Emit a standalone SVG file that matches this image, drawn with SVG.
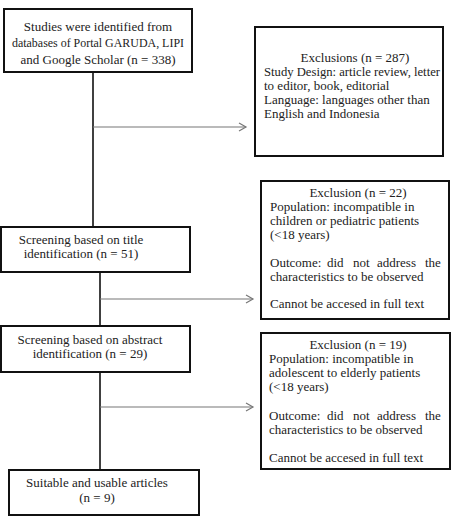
<svg xmlns="http://www.w3.org/2000/svg" width="465" height="518" viewBox="0 0 465 518">
<style>
.box{fill:#fff;stroke:#111;stroke-width:2}
.t{font-family:"Liberation Serif",serif;font-size:13px;fill:#222}
.c{text-anchor:middle}
.v{stroke:#000;stroke-width:1.5;fill:none}
.h{stroke:#777;stroke-width:1.2;fill:none}
</style>
<defs>
<marker id="ah" markerWidth="10" markerHeight="10" refX="8" refY="5" orient="auto" markerUnits="userSpaceOnUse">
<path d="M1,1 L8,5 L1,9" fill="none" stroke="#777" stroke-width="1.2"/>
</marker>
</defs>
<rect width="465" height="518" fill="#fff"/>
<g id="connectors">
<line class="v" x1="93" y1="72" x2="93" y2="227"/>
<line class="h" x1="93" y1="127" x2="246" y2="127" marker-end="url(#ah)"/>
<line class="v" x1="100" y1="272" x2="100" y2="326"/>
<line class="h" x1="100" y1="299" x2="253" y2="299" marker-end="url(#ah)"/>
<line class="v" x1="100" y1="372" x2="100" y2="470"/>
<line class="h" x1="100" y1="407" x2="253" y2="407" marker-end="url(#ah)"/>
</g>
<g id="n1">
<rect class="box" x="4" y="9" width="188" height="63"/>
<text class="t c" x="98" y="31">Studies were identified from</text>
<text class="t c" x="98" y="47" textLength="172" lengthAdjust="spacingAndGlyphs">databases of Portal GARUDA, LIPI</text>
<text class="t c" x="98" y="64">and Google Scholar (n = 338)</text>
</g>
<g id="n2">
<rect class="box" x="255" y="27" width="188" height="129"/>
<text class="t c" x="355" y="62">Exclusions (n = 287)</text>
<text class="t" x="264" y="76" textLength="176" lengthAdjust="spacingAndGlyphs">Study Design: article review, letter</text>
<text class="t" x="264" y="90">to editor, book, editorial</text>
<text class="t" x="264" y="104">Language: languages other than</text>
<text class="t" x="264" y="118">English and Indonesia</text>
</g>
<g id="n3">
<rect class="box" x="1" y="227" width="189" height="45"/>
<text class="t c" x="81" y="244">Screening based on title</text>
<text class="t c" x="81" y="258">identification (n = 51)</text>
</g>
<g id="n4">
<rect class="box" x="261" y="181" width="188" height="138"/>
<text class="t c" x="358" y="197">Exclusion (n = 22)</text>
<text class="t" x="270" y="211">Population: incompatible in</text>
<text class="t" x="270" y="225">children or pediatric patients</text>
<text class="t" x="270" y="239">(&lt;18 years)</text>
<text class="t" y="267"><tspan x="270">Outcome:</tspan><tspan x="327">did</tspan><tspan x="353">not</tspan><tspan x="377">address</tspan><tspan x="425">the</tspan></text>
<text class="t" x="270" y="281">characteristics to be observed</text>
<text class="t" x="270" y="308">Cannot be accesed in full text</text>
</g>
<g id="n5">
<rect class="box" x="1" y="326" width="189" height="46"/>
<text class="t c" x="90" y="344">Screening based on abstract</text>
<text class="t c" x="90" y="358">identification (n = 29)</text>
</g>
<g id="n6">
<rect class="box" x="261" y="333" width="189" height="136"/>
<text class="t c" x="358" y="349">Exclusion (n = 19)</text>
<text class="t" x="269" y="363">Population: incompatible in</text>
<text class="t" x="269" y="377">adolescent to elderly patients</text>
<text class="t" x="269" y="391">(&lt;18 years)</text>
<text class="t" y="420"><tspan x="269">Outcome:</tspan><tspan x="327">did</tspan><tspan x="353">not</tspan><tspan x="377">address</tspan><tspan x="425">the</tspan></text>
<text class="t" x="269" y="434">characteristics to be observed</text>
<text class="t" x="269" y="462">Cannot be accesed in full text</text>
</g>
<g id="n7">
<rect class="box" x="9" y="470" width="190" height="45"/>
<text class="t c" x="97" y="487">Suitable and usable articles</text>
<text class="t c" x="97" y="502">(n = 9)</text>
</g>
</svg>
